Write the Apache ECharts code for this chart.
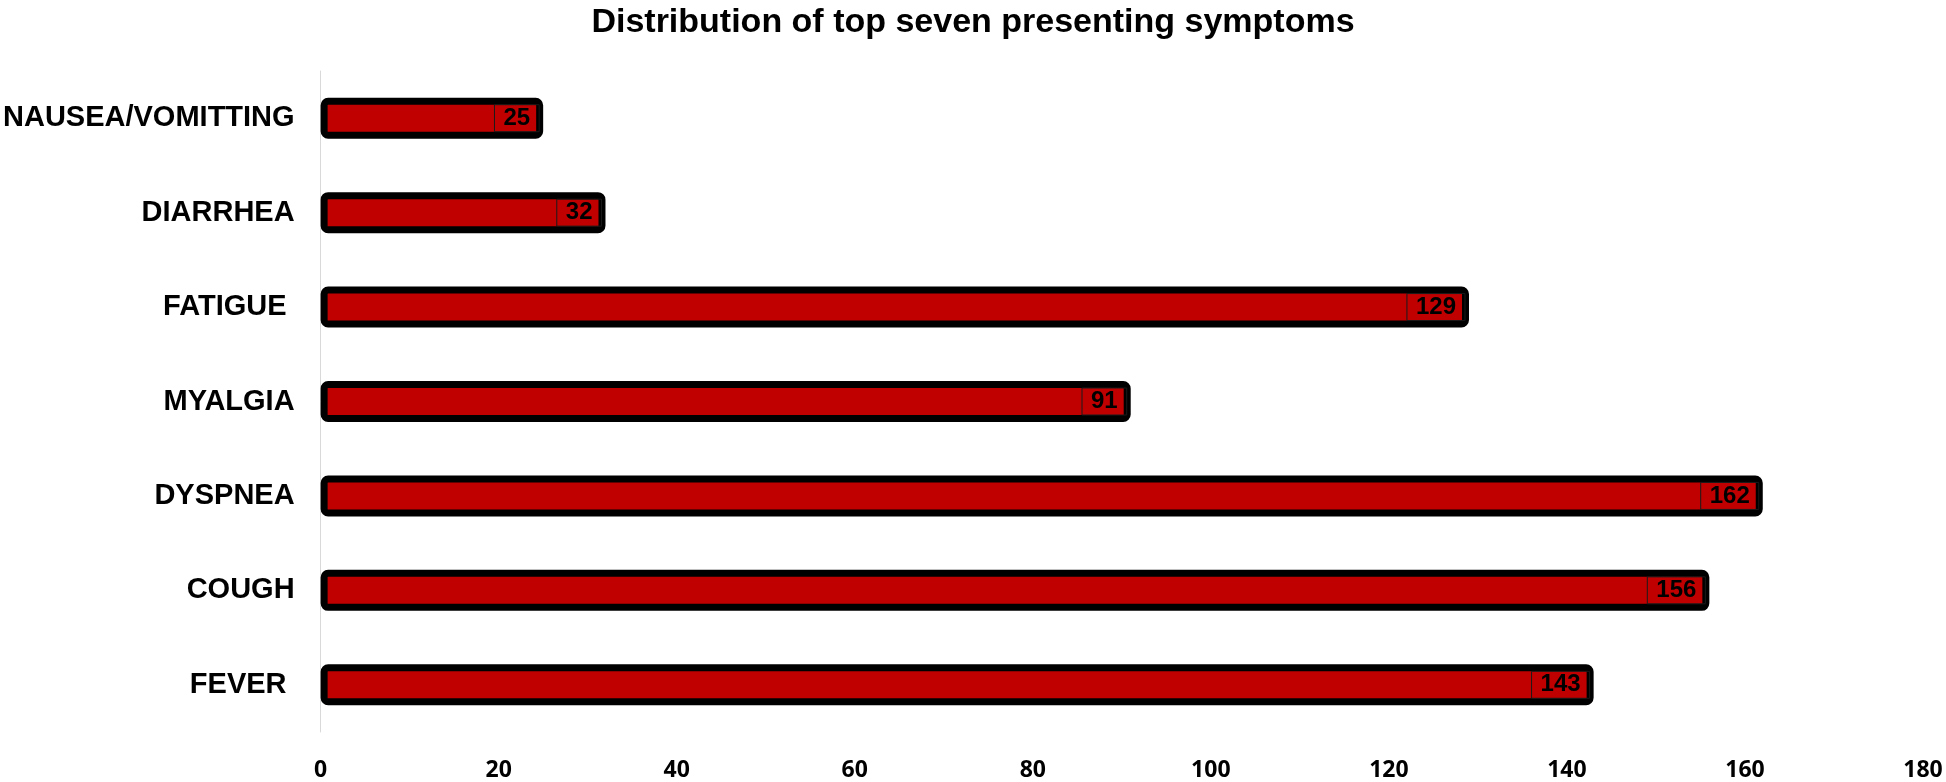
<!DOCTYPE html>
<html>
<head>
<meta charset="utf-8">
<script src="https://cdn.jsdelivr.net/npm/echarts@6/dist/echarts.min.js"></script>
<style>
html,body{margin:0;padding:0;background:#fff;}
#chart{width:1946px;height:782px;}
</style>
</head>
<body>
<div id="chart"></div>
<script>
// bottom-to-top order
const categories = ['FEVER ', 'COUGH', 'DYSPNEA', 'MYALGIA', 'FATIGUE ', 'DIARRHEA', 'NAUSEA/VOMITTING'];
const values = [143, 156, 162, 91, 129, 32, 25];
const xTicks = [0, 20, 40, 60, 80, 100, 120, 140, 160, 180];

const chart = echarts.init(document.getElementById('chart'));
chart.setOption({
  animation: false,
  backgroundColor: '#fff',
  title: {
    text: 'Distribution of top seven presenting symptoms',
    left: 'center',
    top: 1,
    textStyle: { fontFamily: 'Liberation Sans', fontWeight: 'bold', fontSize: 34, color: '#000' }
  },
  grid: { left: 319, right: 23, top: 71, bottom: 48, containLabel: false },
  xAxis: {
    type: 'value',
    min: xTicks[0],
    max: xTicks[xTicks.length - 1],
    interval: 20,
    axisLine: { show: false },
    axisTick: { show: false },
    splitLine: { show: false },
    axisLabel: {
      margin: 27,
      fontFamily: 'Open Sans', fontWeight: 'bold', fontSize: 23, color: '#000'
    }
  },
  yAxis: {
    type: 'category',
    data: categories,
    axisLine: { show: true, lineStyle: { color: '#d9d9d9', width: 1 } },
    axisTick: { show: false },
    axisLabel: {
      margin: 26,
      fontFamily: 'Liberation Sans', fontWeight: 'bold', fontSize: 29, color: '#000'
    }
  },
  series: [{
    type: 'bar',
    data: values,
    barWidth: 41,
    itemStyle: { color: '#c00000', borderColor: '#000', borderWidth: 7, borderRadius: 4 },
    label: {
      show: true,
      position: 'insideRight',
      distance: 4,
      fontFamily: 'Liberation Sans', fontWeight: 'bold', fontSize: 24, color: '#000',
      borderColor: '#1a1a1a', borderWidth: 1,
      lineHeight: 27, padding: [0, 9, 0, 9]
    }
  }]
});
</script>
</body>
</html>
